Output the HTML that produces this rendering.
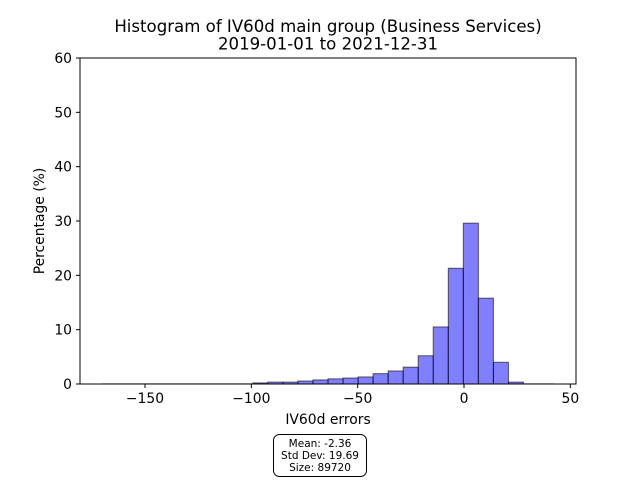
<!DOCTYPE html>
<html><head><meta charset="utf-8"><style>body{margin:0;background:#fff}svg{display:block;font-family:"DejaVu Sans","Liberation Sans",sans-serif}</style></head>
<body>
<svg id="chart" width="640" height="480">
<rect width="640" height="480" fill="#fff"/>
<text x="328" y="32" font-size="16.6" text-anchor="middle">Histogram of IV60d main group (Business Services)</text>
<text x="328" y="49.5" font-size="16.6" text-anchor="middle">2019-01-01 to 2021-12-31</text>
<g id="bars"></g>
<rect x="80" y="58" width="496" height="326" fill="none" stroke="#000" stroke-width="1"/>
<g id="xt"></g><g id="yt"></g>
<text x="328" y="424" font-size="13.9" text-anchor="middle">IV60d errors</text>
<text transform="translate(44,221) rotate(-90)" font-size="13.9" text-anchor="middle">Percentage (%)</text>
<g>
<rect x="273.5" y="434.5" width="93" height="42" rx="6" fill="#fff" stroke="#000"/>
<text x="320" y="447" font-size="10.5" text-anchor="middle">Mean: -2.36</text>
<text x="320" y="459" font-size="10.5" text-anchor="middle">Std Dev: 19.69</text>
<text x="320" y="471" font-size="10.5" text-anchor="middle">Size: 89720</text>
</g>
</svg>
<script>
const binStart = -170;
const binWidth = 7.07;
const percentages = [0.02,0.02,0.02,0.02,0.02,0.02,0.02,0.02,0.02,0.02,0.2,0.35,0.35,0.55,0.75,0.95,1.1,1.3,1.9,2.4,3.1,5.2,10.5,21.3,29.6,15.8,4.0,0.35,0.02,0.02];
const xTicks = [-150,-100,-50,0,50];
const yTicks = [0,10,20,30,40,50,60];
const NS="http://www.w3.org/2000/svg";
const xs=v=>464+(v)*2.1267;
const ys=v=>384-v*5.4333;
const bars=document.getElementById('bars');
percentages.forEach((p,i)=>{
  const x0=xs(binStart+i*binWidth),x1=xs(binStart+(i+1)*binWidth);
  const r=document.createElementNS(NS,'rect');
  r.setAttribute('x',x0);r.setAttribute('width',x1-x0);
  r.setAttribute('y',ys(p));r.setAttribute('height',384-ys(p));
  r.setAttribute('fill','rgba(0,0,255,0.5)');r.setAttribute('stroke','rgba(0,0,0,0.6)');r.setAttribute('stroke-width','1');
  
  
  bars.appendChild(r);
});
const xt=document.getElementById('xt');
xTicks.forEach(t=>{
  const x=xs(t);
  const l=document.createElementNS(NS,'line');
  l.setAttribute('x1',x);l.setAttribute('x2',x);l.setAttribute('y1',384);l.setAttribute('y2',388);l.setAttribute('stroke','#000');
  
  
  xt.appendChild(l);
  const tx=document.createElementNS(NS,'text');
  tx.setAttribute('x',x);tx.setAttribute('y',403);tx.setAttribute('font-size','13.9');tx.setAttribute('text-anchor','middle');
  tx.textContent=t<0?'\u2212'+(-t):t;
  
  
  xt.appendChild(tx);
});
const yt=document.getElementById('yt');
yTicks.forEach(t=>{
  const y=ys(t);
  const l=document.createElementNS(NS,'line');
  l.setAttribute('x1',76);l.setAttribute('x2',80);l.setAttribute('y1',y);l.setAttribute('y2',y);l.setAttribute('stroke','#000');
  
  
  yt.appendChild(l);
  const tx=document.createElementNS(NS,'text');
  tx.setAttribute('x',72);tx.setAttribute('y',y+5);tx.setAttribute('font-size','13.9');tx.setAttribute('text-anchor','end');
  tx.textContent=t;
  
  
  yt.appendChild(tx);
});
</script>
</body></html>
